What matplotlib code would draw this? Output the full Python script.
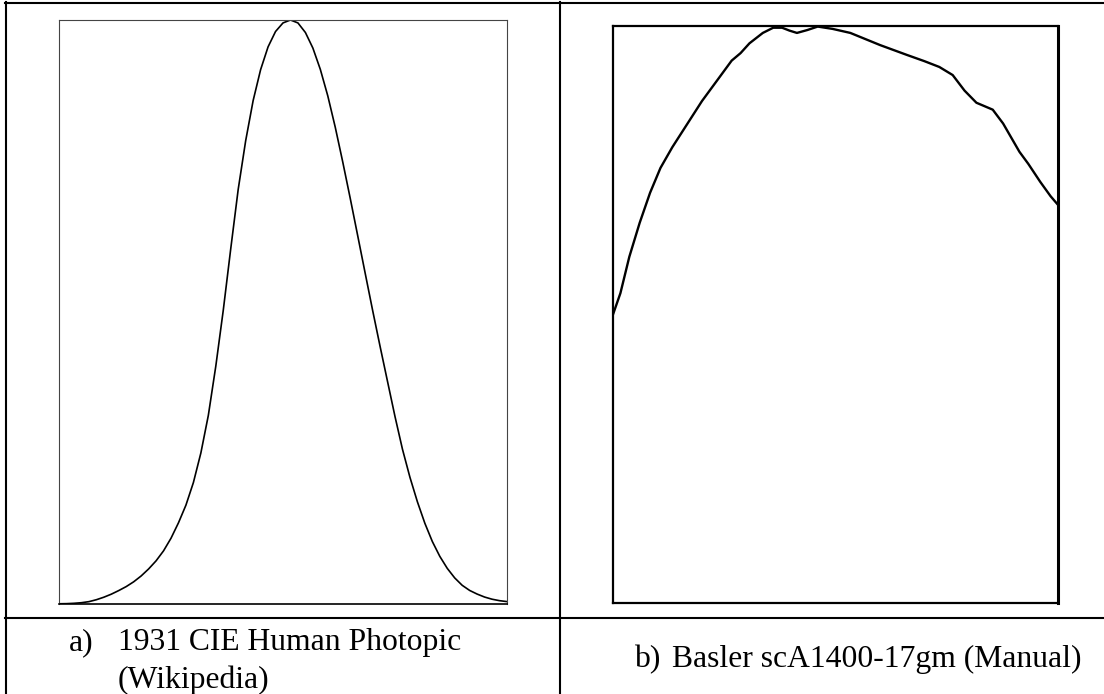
import matplotlib.pyplot as plt
from matplotlib.lines import Line2D

# a) CIE 1931 photopic luminosity function V(lambda)
cie_nm = [400, 405, 410, 415, 420, 425, 430, 435, 440, 445, 450, 455, 460, 465,
          470, 475, 480, 485, 490, 495, 500, 505, 510, 515, 520, 525, 530, 535,
          540, 545, 550, 555, 560, 565, 570, 575, 580, 585, 590, 595, 600, 605,
          610, 615, 620, 625, 630, 635, 640, 645, 650, 655, 660, 665, 670, 675,
          680, 685, 690, 695, 700]
cie_v = [0.0004, 0.0006, 0.0012, 0.0022, 0.0040, 0.0073, 0.0116, 0.0168, 0.0230,
         0.0298, 0.0380, 0.0480, 0.0600, 0.0739, 0.0910, 0.1126, 0.1390, 0.1693,
         0.2080, 0.2586, 0.3230, 0.4073, 0.5030, 0.6082, 0.7100, 0.7932, 0.8620,
         0.9149, 0.9540, 0.9803, 0.9950, 1.0000, 0.9950, 0.9786, 0.9520, 0.9154,
         0.8700, 0.8163, 0.7570, 0.6949, 0.6310, 0.5668, 0.5030, 0.4412, 0.3810,
         0.3210, 0.2650, 0.2170, 0.1750, 0.1382, 0.1070, 0.0816, 0.0610, 0.0446,
         0.0320, 0.0232, 0.0170, 0.0119, 0.0082, 0.0057, 0.0041]

# b) Basler scA1400-17gm relative response (read off the manual plot)
basler_nm = [400, 405, 411, 418, 425, 432, 440, 445, 450, 460, 470, 480, 486,
             492, 501, 508, 514, 519, 524, 531, 538, 548, 560, 580, 598, 610, 620,
             629, 637, 645, 656, 663, 674, 680, 688, 695, 700]
basler_resp = [0.50, 0.537, 0.60, 0.659, 0.711, 0.754, 0.79, 0.81, 0.83, 0.87,
               0.905, 0.94, 0.953, 0.97, 0.988, 0.997, 0.997, 0.992, 0.988, 0.993,
               0.999, 0.995, 0.988, 0.967, 0.950, 0.939, 0.929, 0.915, 0.888, 0.867,
               0.855, 0.831, 0.782, 0.761, 0.730, 0.705, 0.690]

captions_a = ["1931 CIE Human Photopic", "(Wikipedia)"]
caption_b = "Basler scA1400-17gm (Manual)"

W, H = 1104, 694
fig = plt.figure(figsize=(W / 100, H / 100), dpi=100)
plt.rcParams['font.family'] = ['Liberation Serif', 'DejaVu Serif']


def box(x0, y0, x1, y1):
    # pixel box (top-left origin) -> figure rect
    return [x0 / W, 1 - y1 / H, (x1 - x0) / W, (y1 - y0) / H]


def hline(y, x0, x1, lw=1.5):
    fig.add_artist(Line2D([x0 / W, x1 / W], [1 - y / H, 1 - y / H],
                          color='black', lw=lw, transform=fig.transFigure))


def vline(x, y0, y1, lw=1.5):
    fig.add_artist(Line2D([x / W, x / W], [1 - y0 / H, 1 - y1 / H],
                          color='black', lw=lw, transform=fig.transFigure))


# table grid
hline(2.5, 5, W)
hline(618, 5, W)
vline(6, 2, H)
vline(560, 2, H)

# left panel
ax1 = fig.add_axes(box(59, 20, 507, 604))
ax1.plot(cie_nm, cie_v, color='black', lw=1.2)
ax1.set_xlim(400, 700)
ax1.set_ylim(0, 1)
ax1.set_xticks([])
ax1.set_yticks([])
for s in ax1.spines.values():
    s.set_color('#444444')
    s.set_linewidth(0.8)
ax1.spines['bottom'].set_color('black')
ax1.spines['bottom'].set_linewidth(1.2)

# right panel
ax2 = fig.add_axes(box(613, 26, 1058, 603))
ax2.plot(basler_nm, basler_resp, color='black', lw=1.7)
ax2.set_xlim(400, 700)
ax2.set_ylim(0, 1)
ax2.set_xticks([])
ax2.set_yticks([])
for s in ax2.spines.values():
    s.set_color('black')
    s.set_linewidth(1.6)
ax2.spines['right'].set_linewidth(2.2)

# captions
fs = 22.8
fig.text(69 / W, 1 - 650 / H, "a)", fontsize=fs, va='baseline')
fig.text(118 / W, 1 - 650 / H, captions_a[0], fontsize=fs, va='baseline')
fig.text(118 / W, 1 - 688 / H, captions_a[1], fontsize=fs, va='baseline')
fig.text(635 / W, 1 - 667 / H, "b)", fontsize=fs, va='baseline')
fig.text(672 / W, 1 - 667 / H, caption_b, fontsize=fs, va='baseline')

fig.savefig('out.png', dpi=100)
